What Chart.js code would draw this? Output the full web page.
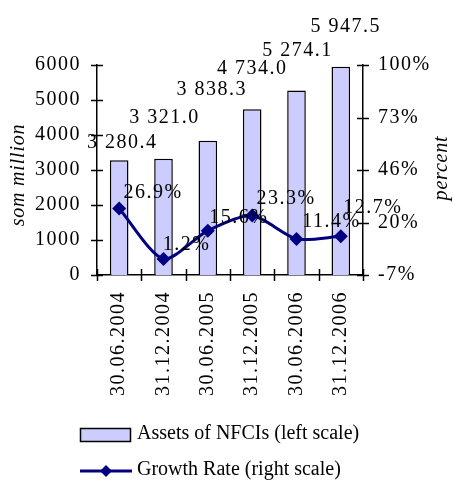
<!DOCTYPE html>
<html>
<head>
<meta charset="utf-8">
<script src="https://cdn.jsdelivr.net/npm/chart.js@4"></script>
<style>
  html, body { margin: 0; padding: 0; background: #ffffff; }
  #wrap { width: 453px; height: 481px; }
</style>
</head>
<body>
<div id="wrap"><canvas id="c" width="453" height="481"></canvas></div>
<script>
// ---- data ----
const categories = ['30.06.2004', '31.12.2004', '30.06.2005', '31.12.2005', '30.06.2006', '31.12.2006'];
const assets = [3280.4, 3321.0, 3838.3, 4734.0, 5274.1, 5947.5];
const growthRate = [26.9, 1.2, 15.6, 23.3, 11.4, 12.7];
const rightTickLabels = ['-7%', '20%', '46%', '73%', '100%'];
const seriesNames = ['Assets of NFCIs (left scale)', 'Growth Rate (right scale)'];
const axisTitles = ['som million', 'percent'];

const FONT = "'Liberation Serif', 'Times New Roman', serif";
Chart.defaults.font.family = FONT;
Chart.defaults.font.size = 20;
Chart.defaults.color = '#000';

function fmtAssets(v) {
  const s = v.toFixed(1).split('.');
  const int = s[0].replace(/\B(?=(\d{3})+(?!\d))/g, ' ');
  return int + '.' + s[1];
}

// label offsets relative to marks (presentation only)
const barLabelOff = [[3, 17], [1, 41], [4, 51], [0, 41], [1, 40], [5, 40]];
const lineLabelOff = [[34, 16], [23, 14], [31, 13], [34, 17], [35, 17], [32, 29]];

const decorPlugin = {
  id: 'decor',
  beforeDraw(chart) {
    if ('letterSpacing' in chart.ctx) chart.ctx.letterSpacing = '1.5px';
  },
  afterDatasetsDraw(chart) {
    const ctx = chart.ctx;
    const x = chart.scales.x, y = chart.scales.y, y1 = chart.scales.y1;
    const ca = chart.chartArea;
    ctx.save();
    ctx.strokeStyle = '#000';
    ctx.lineWidth = 1.5;
    // x ticks (crossing)
    const n = categories.length;
    const w = (ca.right - ca.left) / n;
    for (let i = 0; i <= n; i++) {
      const px = Math.round(ca.left + i * w) + 0.5;
      ctx.beginPath(); ctx.moveTo(px, ca.bottom - 6); ctx.lineTo(px, ca.bottom + 6); ctx.stroke();
    }
    // left ticks
    y.ticks.forEach(t => {
      const py = Math.round(y.getPixelForValue(t.value)) + 0.5;
      ctx.beginPath(); ctx.moveTo(ca.left - 6, py); ctx.lineTo(ca.left + 6, py); ctx.stroke();
    });
    // right ticks
    y1.ticks.forEach(t => {
      const py = Math.round(y1.getPixelForValue(t.value)) + 0.5;
      ctx.beginPath(); ctx.moveTo(ca.right - 6, py); ctx.lineTo(ca.right + 6, py); ctx.stroke();
    });

    // data labels
    if ('letterSpacing' in ctx) ctx.letterSpacing = '1.5px';
    ctx.fillStyle = '#000';
    ctx.font = '20px ' + FONT;
    ctx.textAlign = 'center';
    ctx.textBaseline = 'middle';
    const barMeta = chart.getDatasetMeta(1);
    barMeta.data.forEach((el, i) => {
      const o = barLabelOff[i];
      ctx.fillText(fmtAssets(assets[i]), el.x + o[0], el.y - o[1]);
    });
    const lineMeta = chart.getDatasetMeta(0);
    lineMeta.data.forEach((el, i) => {
      const o = lineLabelOff[i];
      ctx.fillText(growthRate[i].toFixed(1) + '%', el.x + o[0], el.y - o[1]);
    });

    // axis titles
    if ('letterSpacing' in ctx) ctx.letterSpacing = '0.8px';
    ctx.font = 'italic 20px ' + FONT;
    ctx.save();
    ctx.translate(19, 175); ctx.rotate(-Math.PI / 2);
    ctx.fillText(axisTitles[0], 0, 0);
    ctx.restore();
    ctx.save();
    ctx.translate(442, 168); ctx.rotate(-Math.PI / 2);
    ctx.fillText(axisTitles[1], 0, 0);
    ctx.restore();

    // legend
    if ('letterSpacing' in ctx) ctx.letterSpacing = '0px';
    ctx.font = '20px ' + FONT;
    ctx.textAlign = 'left';
    ctx.fillStyle = '#ccccff';
    ctx.fillRect(80.5, 428.5, 50, 13);
    ctx.strokeStyle = '#000';
    ctx.lineWidth = 1.5;
    ctx.strokeRect(80.5, 428.5, 50, 13);
    ctx.fillStyle = '#000';
    ctx.fillText(seriesNames[0], 137, 434);
    ctx.strokeStyle = '#000080';
    ctx.lineWidth = 3;
    ctx.beginPath(); ctx.moveTo(80, 471); ctx.lineTo(132, 471); ctx.stroke();
    ctx.fillStyle = '#000080';
    ctx.beginPath();
    ctx.moveTo(106, 465); ctx.lineTo(112, 471); ctx.lineTo(106, 477); ctx.lineTo(100, 471); ctx.closePath();
    ctx.fill();
    ctx.fillStyle = '#000';
    ctx.fillText(seriesNames[1], 137, 470);
    ctx.restore();
  }
};

new Chart(document.getElementById('c'), {
  data: {
    labels: categories,
    datasets: [
      {
        type: 'line',
        label: seriesNames[1],
        data: growthRate,
        yAxisID: 'y1',
        borderColor: '#000080',
        backgroundColor: '#000080',
        borderWidth: 3,
        pointStyle: 'rectRot',
        pointRadius: 7,
        pointBorderWidth: 0,
        tension: 0.25,
        order: 0
      },
      {
        type: 'bar',
        label: seriesNames[0],
        data: assets,
        yAxisID: 'y',
        backgroundColor: '#ccccff',
        borderColor: '#000',
        borderWidth: 1.5,
        barPercentage: 0.42,
        categoryPercentage: 1.0,
        order: 1
      }
    ]
  },
  options: {
    responsive: false,
    animation: false,
    events: [],
    layout: { padding: { top: 65, left: 0, right: 0, bottom: 0 } },
    plugins: { legend: { display: false }, tooltip: { enabled: false } },
    scales: {
      x: {
        offset: true,
        grid: { display: false, drawTicks: false },
        border: { display: true, color: '#000', width: 1.5 },
        ticks: { autoSkip: false, minRotation: 90, maxRotation: 90, padding: 16, font: { size: 20 } },
        afterFit(s) { s.height = 206; }
      },
      y: {
        position: 'left',
        min: 0, max: 6000,
        grid: { display: false, drawTicks: false },
        border: { display: true, color: '#000', width: 1.5 },
        ticks: { stepSize: 1000, padding: 16, font: { size: 20 }, callback: v => String(v) },
        afterFit(s) { s.width = 97; }
      },
      y1: {
        position: 'right',
        min: -7, max: 100,
        grid: { display: false, drawTicks: false },
        border: { display: true, color: '#000', width: 1.5 },
        ticks: {
          stepSize: 26.75, padding: 15, font: { size: 20 },
          callback: (v, i) => rightTickLabels[i]
        },
        afterFit(s) { s.width = 90; }
      }
    }
  },
  plugins: [decorPlugin]
});
</script>
</body>
</html>
